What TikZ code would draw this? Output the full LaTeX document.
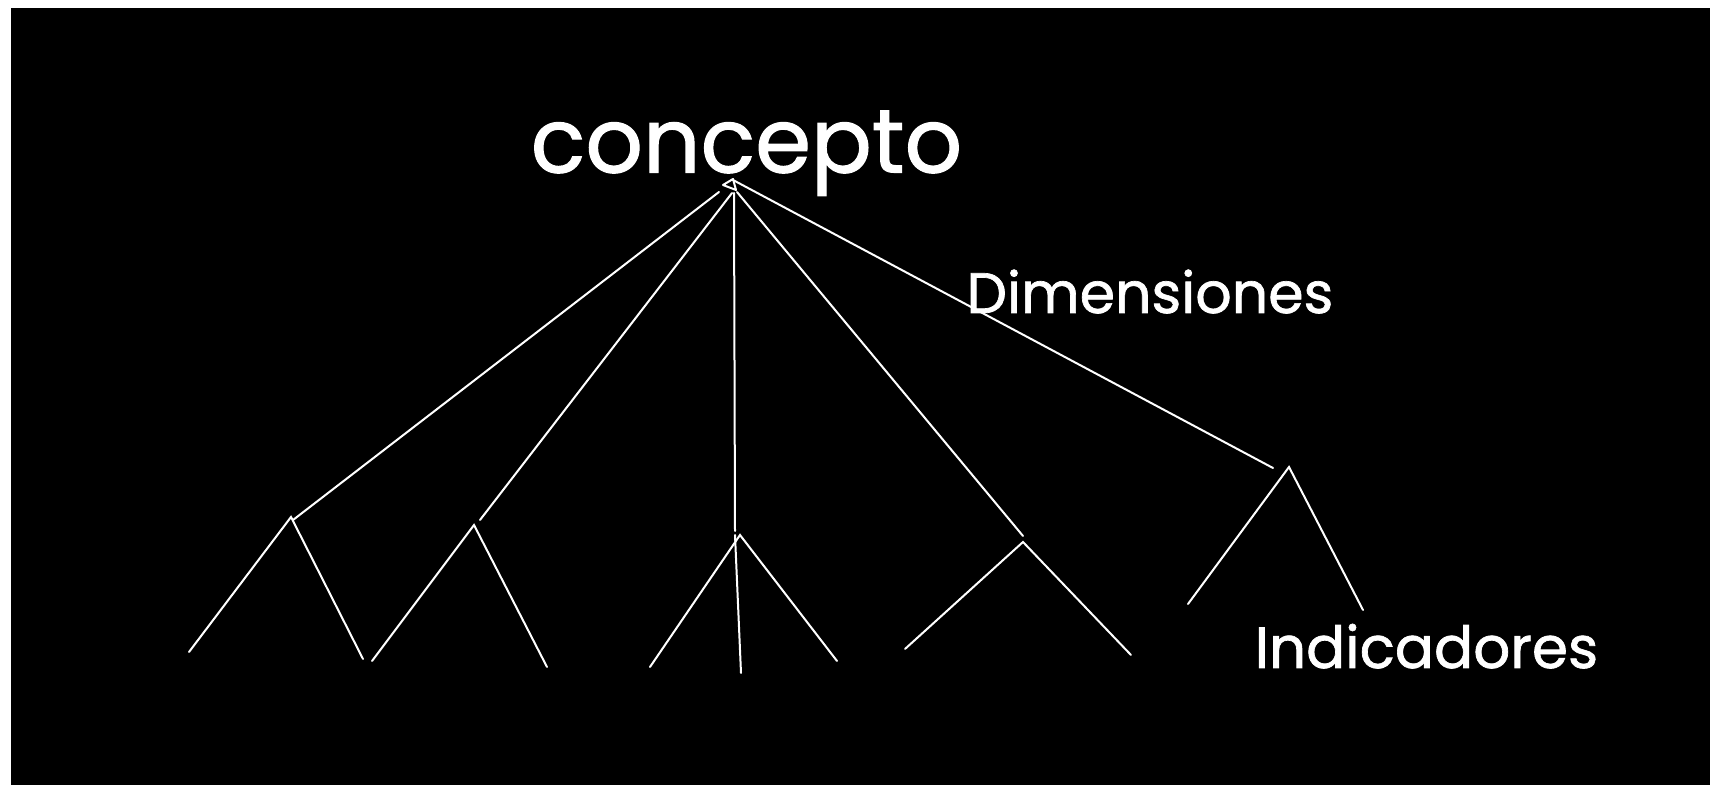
\documentclass[tikz,border=0pt]{standalone}
\usepackage{fontspec}
\setmainfont{Poppins}
\newfontfamily\gfont{Poppins}[FakeBold=1.2]
\begin{document}
\begin{tikzpicture}[x=0.5pt,y=-0.5pt,
  edge/.style={white, line width=1pt, line cap=round},
  lbl/.style={text=white, inner sep=0pt, anchor=base}]
\fill[white] (0,0) rectangle (1710,785);
\fill[black] (11,8) rectangle (1710,785);
\useasboundingbox (0,0) rectangle (1710,785);
% labels
\node[lbl, font=\gfont\fontsize{45}{45}\selectfont] (concepto) at (746.5,172.5) {concepto};
\node[lbl, font=\gfont\fontsize{28.5}{29}\selectfont] (dim) at (1150,313) {Dimensiones};
\node[lbl, font=\gfont\fontsize{29}{29}\selectfont] (ind) at (1426.5,668) {Indicadores};
% root apex
\coordinate (t1) at (723,185);
\coordinate (t2) at (733,179);
\coordinate (t3) at (736,190);
\draw[edge, line join=round] (t1) -- (t2) -- (t3) -- cycle;
% dimension lines
\coordinate (s1) at (719,192);  \coordinate (e1) at (293,520);
\coordinate (s2) at (732,193);  \coordinate (e2) at (480,520);
\coordinate (s3) at (734,193);  \coordinate (e3) at (735,531);
\coordinate (s4) at (737,192);  \coordinate (e4) at (1023,536);
\coordinate (s5) at (733,180);  \coordinate (e5) at (1273,468);
\draw[edge] (s1) -- (e1);
\draw[edge] (s2) -- (e2);
\draw[edge] (s3) -- (e3);
\draw[edge] (s4) -- (e4);
\draw[edge] (s5) -- (e5);
% indicator apexes
\coordinate (a) at (291,517);  \coordinate (a1) at (189,652); \coordinate (a2) at (363,659);
\coordinate (b) at (474,525);  \coordinate (b1) at (372,661); \coordinate (b2) at (547,667);
\coordinate (c) at (740,535);  \coordinate (c1) at (650,667); \coordinate (c2) at (837,661);
\coordinate (cm) at (735,535); \coordinate (c3) at (741,673);
\coordinate (d) at (1023,542); \coordinate (d1) at (905,649); \coordinate (d2) at (1131,655);
\coordinate (e) at (1289,467); \coordinate (ee1) at (1188,604); \coordinate (ee2) at (1363,610);
\draw[edge] (a1) -- (a) -- (a2);
\draw[edge] (b1) -- (b) -- (b2);
\draw[edge] (c1) -- (c) -- (c2);
\draw[edge] (cm) -- (c3);
\draw[edge] (d1) -- (d) -- (d2);
\draw[edge] (ee1) -- (e) -- (ee2);
\end{tikzpicture}
\end{document}
